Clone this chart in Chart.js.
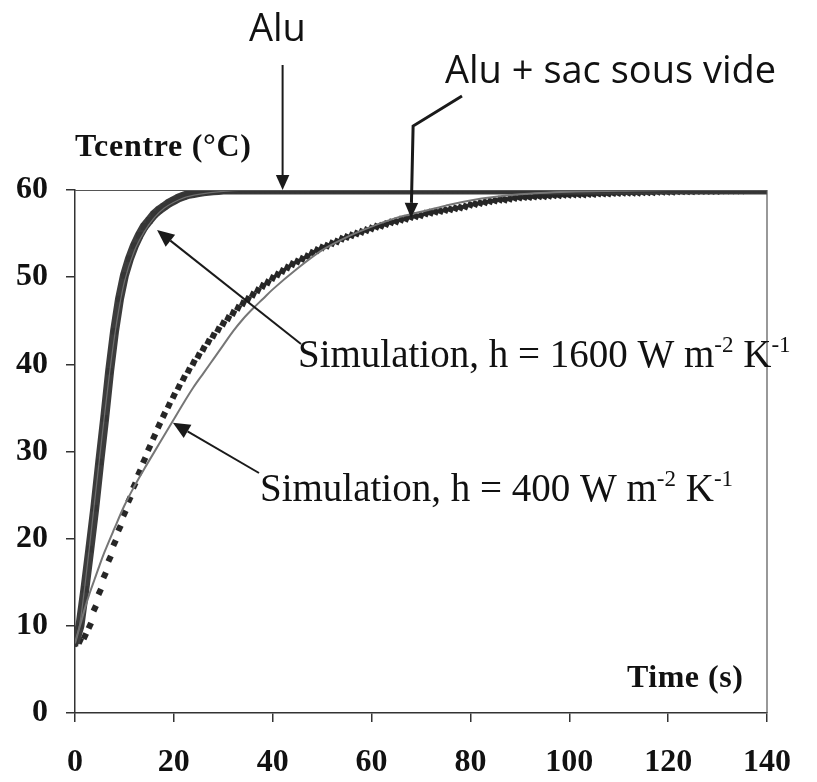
<!DOCTYPE html>
<html>
<head>
<meta charset="utf-8">
<script src="https://cdn.jsdelivr.net/npm/chart.js@4.4.0/dist/chart.umd.min.js"></script>
<style>
  html, body { margin: 0; padding: 0; background: #fff; }
  #wrap { width: 817px; height: 782px; }
</style>
</head>
<body>
<div id="wrap"><canvas id="c" width="817" height="782"></canvas></div>
<script>
/* ── data ── */

// measured, Alu only (one reading per second, t = 0..140 s)
const aluTemp = [
  8, 10, 14.2, 18.8, 23.5, 28.8, 33.8, 39.2, 43.8, 47.5,
  50.2, 52.1, 53.6, 54.8, 55.8, 56.5, 57.2, 57.7, 58.1, 58.5,
  58.8, 59.1, 59.3, 59.5, 59.6, 59.7, 59.8, 59.85, 59.9, 59.95,
  60, 60, 60, 60, 60, 60, 60, 60, 60, 60,
  60, 60, 60, 60, 60, 60, 60, 60, 60, 60,
  60, 60, 60, 60, 60, 60, 60, 60, 60, 60,
  60, 60, 60, 60, 60, 60, 60, 60, 60, 60,
  60, 60, 60, 60, 60, 60, 60, 60, 60, 60,
  60, 60, 60, 60, 60, 60, 60, 60, 60, 60,
  60, 60, 60, 60, 60, 60, 60, 60, 60, 60,
  60, 60, 60, 60, 60, 60, 60, 60, 60, 60,
  60, 60, 60, 60, 60, 60, 60, 60, 60, 60,
  60, 60, 60, 60, 60, 60, 60, 60, 60, 60,
  60, 60, 60, 60, 60, 60, 60, 60, 60, 60,
  60
];

// measured, Alu + sac sous vide (one reading per second, t = 0..140 s)
const sacTemp = [
  8, 8.3, 8.8, 10, 12, 13.9, 15.8, 17.7, 19.5, 21.2,
  22.9, 24.5, 26.1, 27.6, 29, 30.4, 31.7, 33, 34.2, 35.3,
  36.4, 37.4, 38.4, 39.3, 40.2, 41, 41.8, 42.6, 43.3, 44,
  44.7, 45.3, 45.9, 46.5, 47, 47.5, 48, 48.5, 49, 49.4,
  49.9, 50.3, 50.7, 51.1, 51.5, 51.8, 52.1, 52.4, 52.8, 53.1,
  53.4, 53.6, 53.9, 54.1, 54.4, 54.6, 54.8, 55, 55.2, 55.4,
  55.6, 55.8, 55.9, 56.1, 56.3, 56.4, 56.6, 56.7, 56.9, 57,
  57.1, 57.3, 57.4, 57.5, 57.6, 57.7, 57.8, 57.9, 58, 58.1,
  58.3, 58.4, 58.5, 58.6, 58.7, 58.8, 58.9, 58.9, 59, 59.1,
  59.15, 59.2, 59.2, 59.25, 59.3, 59.3, 59.35, 59.4, 59.4, 59.45,
  59.45, 59.5, 59.5, 59.5, 59.55, 59.55, 59.6, 59.6, 59.6, 59.65,
  59.65, 59.7, 59.7, 59.7, 59.7, 59.75, 59.75, 59.75, 59.8, 59.8,
  59.8, 59.8, 59.85, 59.85, 59.85, 59.85, 59.9, 59.9, 59.9, 59.9,
  59.9, 59.95, 59.95, 59.95, 59.95, 59.95, 60, 60, 60, 60,
  60
];

// simulation, h = 1600 W m-2 K-1
const sim1600Time = [0, 1, 2, 3, 4, 5, 6, 7, 8, 9, 10, 12, 14, 16, 18, 20, 22, 25, 30, 40, 60, 80, 100, 120, 140];
const sim1600Temp = [8, 10.3, 14.6, 19.4, 24.4, 29.4, 34.3, 39, 43.2, 46.7, 49.5, 53, 55.2, 56.8, 57.9, 58.6, 59.1, 59.5, 59.85, 60, 60, 60, 60, 60, 60];

// simulation, h = 400 W m-2 K-1
const sim400Time = [0, 1, 2, 3, 4, 5, 6, 8, 10, 12, 14, 16, 18, 20, 22, 24, 26, 28, 30, 32, 34, 36, 38, 40, 45, 50, 55, 60, 65, 70, 75, 80, 90, 100, 110, 120, 130, 140];
const sim400Temp = [8, 10, 12, 13.8, 15.4, 17, 18.5, 21.2, 23.8, 26, 28, 29.9, 31.8, 33.7, 35.6, 37.4, 39, 40.6, 42.2, 43.8, 45.2, 46.4, 47.5, 48.6, 51, 53.1, 54.6, 55.8, 56.8, 57.5, 58.2, 58.8, 59.5, 59.8, 59.9, 60, 60, 60];

// axis ticks
const xTicks = [0, 20, 40, 60, 80, 100, 120, 140];
const yTicks = [0, 10, 20, 30, 40, 50, 60];

const SERIF = "'Liberation Serif', 'Times New Roman', serif";
const SANS  = "'Open Sans', 'Noto Sans', sans-serif";

const perSecond = arr => arr.map((v, i) => ({ x: i, y: v }));
const pairs = (t, v) => t.map((x, i) => ({ x, y: v[i] }));

/* ── frame + annotations ── */
function arrow(ctx, pts, width, head) {
  ctx.save();
  ctx.strokeStyle = '#1a1a1a';
  ctx.fillStyle = '#1a1a1a';
  ctx.lineWidth = width;
  const n = pts.length;
  const [tx, ty] = pts[n - 1];
  const [px, py] = pts[n - 2];
  const ang = Math.atan2(ty - py, tx - px);
  const c = Math.cos(ang), s = Math.sin(ang);
  ctx.beginPath();
  ctx.moveTo(pts[0][0], pts[0][1]);
  for (let i = 1; i < n - 1; i++) ctx.lineTo(pts[i][0], pts[i][1]);
  ctx.lineTo(tx - c * head, ty - s * head);
  ctx.stroke();
  ctx.beginPath();
  ctx.moveTo(tx, ty);
  ctx.lineTo(tx - c * head - s * head * 0.45, ty - s * head + c * head * 0.45);
  ctx.lineTo(tx - c * head + s * head * 0.45, ty - s * head - c * head * 0.45);
  ctx.closePath();
  ctx.fill();
  ctx.restore();
}

function supText(ctx, parts, x, y, size) {
  // parts: [text, isSuperscript]
  let cx = x;
  parts.forEach(([t, sup]) => {
    ctx.font = (sup ? Math.round(size * 0.6) : size) + 'px ' + SERIF;
    ctx.fillText(t, cx, sup ? y - size * 0.38 : y);
    cx += ctx.measureText(t).width;
  });
}

const notes = {
  id: 'notes',
  beforeDraw(chart) {
    const { ctx } = chart;
    ctx.save();
    ctx.fillStyle = '#fff';
    ctx.fillRect(0, 0, chart.width, chart.height);
    ctx.restore();
  },
  afterDatasetsDraw(chart) {
    const { ctx, chartArea: a } = chart;
    ctx.save();
    ctx.strokeStyle = '#555';
    ctx.lineWidth = 1.2;
    ctx.beginPath();
    ctx.moveTo(a.left, a.top + 0.5);
    ctx.lineTo(a.right, a.top + 0.5);
    ctx.lineTo(a.right, a.bottom);
    ctx.stroke();
    ctx.restore();
  },
  afterDraw(chart) {
    const { ctx, scales: { x, y } } = chart;

    // arrows, tips anchored on the curves
    const aluTip = [x.getPixelForValue(42), y.getPixelForValue(60)];
    arrow(ctx, [[aluTip[0], 65], aluTip], 2, 15);

    const sacTip = [x.getPixelForValue(68), y.getPixelForValue(56.8)];
    arrow(ctx, [[462, 96], [sacTip[0] + 2, 126], sacTip], 3, 15);

    const s16Tip = [x.getPixelForValue(16.6), y.getPixelForValue(55.4)];
    arrow(ctx, [[301, 344], s16Tip], 2, 17);

    const s4Tip = [x.getPixelForValue(19.8), y.getPixelForValue(33.3)];
    arrow(ctx, [[259, 473], s4Tip], 2, 17);

    ctx.save();
    ctx.fillStyle = '#111';
    ctx.textBaseline = 'middle';
    ctx.textAlign = 'left';

    ctx.font = '38px ' + SANS;
    ctx.fillText('Alu', 249, 30);
    ctx.fillText('Alu + sac sous vide', 445, 72);

    ctx.font = 'bold 32px ' + SERIF;
    ctx.letterSpacing = '0.7px';
    ctx.fillText('Tcentre (°C)', 75, 148);
    ctx.letterSpacing = '0.5px';
    ctx.fillText('Time (s)', 627, 679);
    ctx.letterSpacing = '0px';

    ctx.textBaseline = 'alphabetic';
    supText(ctx, [['Simulation, h = 1600 W m', false], ['-2', true], [' K', false], ['-1', true]], 298, 367, 39);
    supText(ctx, [['Simulation, h = 400 W m', false], ['-2', true], [' K', false], ['-1', true]], 260, 501, 39);
    ctx.restore();
  }
};

const tickFont = { family: SERIF, size: 32, weight: 'bold' };

new Chart(document.getElementById('c'), {
  type: 'scatter',
  data: {
    datasets: [
      {
        label: 'Simulation, h = 1600',
        data: pairs(sim1600Time, sim1600Temp),
        showLine: true,
        borderColor: '#6e6e6e',
        borderWidth: 1.2,
        pointRadius: 0,
        cubicInterpolationMode: 'monotone',
        order: 0,
      },
      {
        label: 'Simulation, h = 400',
        data: pairs(sim400Time, sim400Temp),
        showLine: true,
        borderColor: '#767676',
        borderWidth: 2,
        pointRadius: 0,
        cubicInterpolationMode: 'monotone',
        order: 0,
      },
      {
        label: 'Alu',
        data: perSecond(aluTemp),
        showLine: true,
        borderColor: '#3c3c3c',
        borderWidth: 9,
        pointStyle: 'rect',
        pointRadius: 4.6,
        pointBackgroundColor: '#353535',
        pointBorderWidth: 0,
        order: 1,
      },
      {
        label: 'Alu + sac sous vide',
        data: perSecond(sacTemp),
        showLine: false,
        pointStyle: 'rect',
        pointRadius: 4.3,
        pointRotation: 25,
        pointBackgroundColor: '#262626',
        pointBorderWidth: 0,
        order: 1,
      }
    ]
  },
  plugins: [notes],
  options: {
    responsive: false,
    animation: false,
    devicePixelRatio: 1,
    layout: { padding: { top: 190, right: 50, left: 0, bottom: 0 } },
    plugins: { legend: { display: false }, tooltip: { enabled: false } },
    scales: {
      x: {
        type: 'linear',
        min: 0, max: 140,
        afterFit: s => { s.height = 69; },
        afterBuildTicks: s => { s.ticks = xTicks.map(v => ({ value: v })); },
        ticks: { font: tickFont, color: '#111', padding: 22, maxRotation: 0 },
        grid: { drawOnChartArea: false, drawTicks: true, tickLength: 9, color: '#333', lineWidth: 1.5 },
        border: { color: '#333', width: 1.5 },
      },
      y: {
        min: 0, max: 60,
        afterFit: s => { s.width = 75; },
        afterBuildTicks: s => { s.ticks = yTicks.map(v => ({ value: v })); },
        ticks: { font: tickFont, color: '#111', padding: 18 },
        grid: { drawOnChartArea: false, drawTicks: true, tickLength: 9, color: '#333', lineWidth: 1.5 },
        border: { color: '#333', width: 1.5 },
      }
    }
  }
});
</script>
</body>
</html>
